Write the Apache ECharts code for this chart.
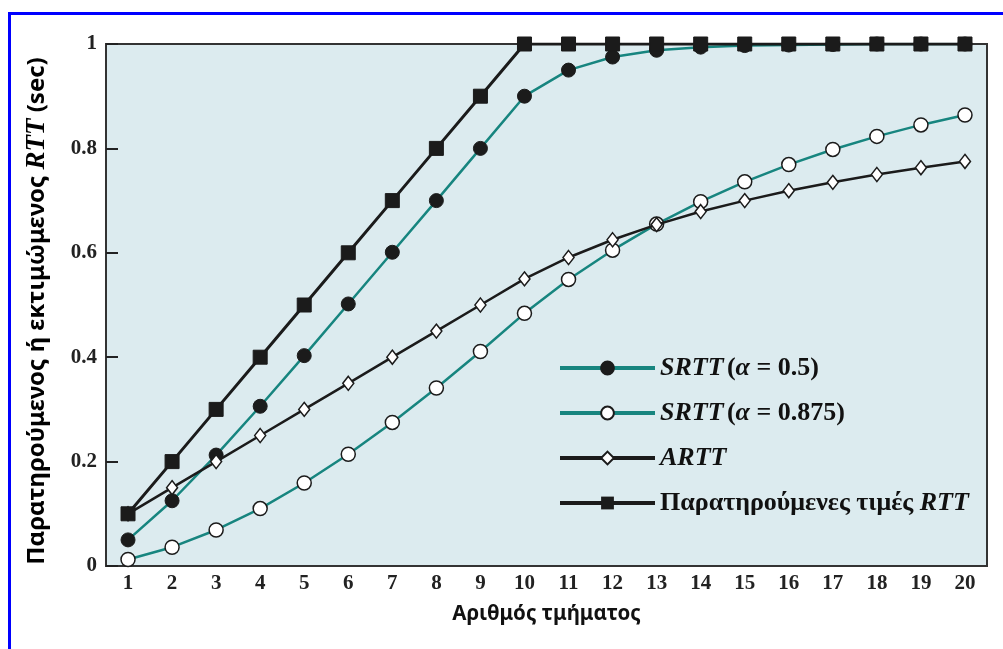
<!DOCTYPE html>
<html>
<head>
<meta charset="utf-8">
<script src="https://cdn.jsdelivr.net/npm/echarts@6/dist/echarts.min.js"></script>
<style>
  html, body { margin:0; padding:0; background:#fff; }
  #frame { position:absolute; left:8px; top:12px; width:1000px; height:640px; border-left:3px solid #0000ff; border-top:3px solid #0000ff; }
  #chart { position:absolute; left:0; top:0; width:1003px; height:649px; }
</style>
</head>
<body>
<div id="frame"></div>
<div id="chart"></div>
<script>
// segment numbers
const segments=['1','2','3','4','5','6','7','8','9','10','11','12','13','14','15','16','17','18','19','20'];
// SRTT with alpha = 0.5
const srtt05=[0.05,0.125,0.2125,0.306,0.403,0.502,0.601,0.70,0.80,0.90,0.95,0.975,0.988,0.994,0.997,0.998,0.999,1.0,1.0,1.0];
// SRTT with alpha = 0.875
const srtt0875=[0.0125,0.036,0.069,0.110,0.159,0.214,0.275,0.341,0.411,0.484,0.549,0.605,0.655,0.698,0.736,0.769,0.798,0.823,0.845,0.864];
// ARTT
const artt=[0.10,0.15,0.20,0.25,0.30,0.35,0.40,0.45,0.50,0.55,0.591,0.625,0.654,0.679,0.70,0.719,0.735,0.75,0.763,0.775];
// observed RTT
const observed=[0.1,0.2,0.3,0.4,0.5,0.6,0.7,0.8,0.9,1,1,1,1,1,1,1,1,1,1,1];

const teal='#17857f';
const black='#1b1b1b';
const serif='"Liberation Serif", "DejaVu Serif", serif';
const sans='"Noto Sans", "DejaVu Sans", sans-serif';

let chart=echarts.init(document.getElementById('chart'));
let legendRich={
    i:{fontFamily:serif, fontStyle:'italic', fontWeight:'bold', fontSize:26, lineHeight:28, color:'#111'},
    n:{fontFamily:serif, fontWeight:'bold', fontSize:26, lineHeight:28, color:'#111'}
};
let legendNames={
    's1':'{i|SRTT} {n|(}{i|α}{n| = 0.5)}',
    's2':'{i|SRTT} {n|(}{i|α}{n| = 0.875)}',
    's3':'{i|ARTT}',
    's4':'{n|Παρατηρούμενες τιμές }{i|RTT}'
};

let option={
    animation:false,
    grid:{
        left:106, right:16, top:44, bottom:83,
        show:true, backgroundColor:'#dcebef', borderColor:'#333', borderWidth:2
    },
    legend:{
        orient:'vertical',
        left:553, top:350,
        itemWidth:95, itemHeight:16, itemGap:19,
        data:['s1','s2','s3','s4'],
        lineStyle:{width:4},
        formatter:function(name){ return legendNames[name]; },
        textStyle:{rich:legendRich}
    },
    xAxis:{
        type:'category',
        data:segments,
        boundaryGap:true,
        name:'Αριθμός τμήματος',
        nameLocation:'middle',
        nameGap:38,
        nameTextStyle:{fontFamily:sans, fontWeight:'bold', fontSize:20.5, color:'#111'},
        axisLine:{lineStyle:{color:'#333', width:2}},
        axisTick:{inside:true, alignWithLabel:true, length:12, lineStyle:{color:'#222', width:2}},
        axisLabel:{fontFamily:serif, fontWeight:'bold', fontSize:21, color:'#222', margin:7},
        splitLine:{show:false}
    },
    yAxis:{
        type:'value',
        min:0, max:1, interval:0.2,
        name:'{b|Παρατηρούμενος ή εκτιμώμενος }{i|RTT}{b| (sec)}',
        nameLocation:'middle',
        nameGap:55,
        nameTextStyle:{
            padding:[0,12,0,0],
            rich:{
                b:{fontFamily:sans, fontWeight:'bold', fontSize:24, color:'#000'},
                i:{fontFamily:serif, fontStyle:'italic', fontWeight:'bold', fontSize:27, color:'#000'}
            }
        },
        axisLine:{show:true, lineStyle:{color:'#333', width:2}},
        axisTick:{show:true, inside:true, length:12, lineStyle:{color:'#222', width:2}},
        axisLabel:{fontFamily:serif, fontWeight:'bold', fontSize:21, color:'#222', margin:9,
            formatter:function(v){ return String(Math.round(v*10)/10); }},
        splitLine:{show:false}
    },
    series:[
        {name:'s4', type:'line', data:observed, symbol:'rect', symbolSize:14,
            lineStyle:{color:black, width:3}, itemStyle:{color:black, borderColor:black}, z:5},
        {name:'s3', type:'line', data:artt, symbol:'diamond', symbolSize:[11,14],
            lineStyle:{color:black, width:2.5}, itemStyle:{color:'#fff', borderColor:black, borderWidth:1.5}, z:4},
        {name:'s1', type:'line', data:srtt05, symbol:'circle', symbolSize:14,
            lineStyle:{color:teal, width:2.5}, itemStyle:{color:black, borderColor:black, borderWidth:1}, z:3},
        {name:'s2', type:'line', data:srtt0875, symbol:'circle', symbolSize:14,
            lineStyle:{color:teal, width:2.5}, itemStyle:{color:'#fff', borderColor:black, borderWidth:1.5}, z:3}
    ]
};
chart.setOption(option);
</script>
</body>
</html>
